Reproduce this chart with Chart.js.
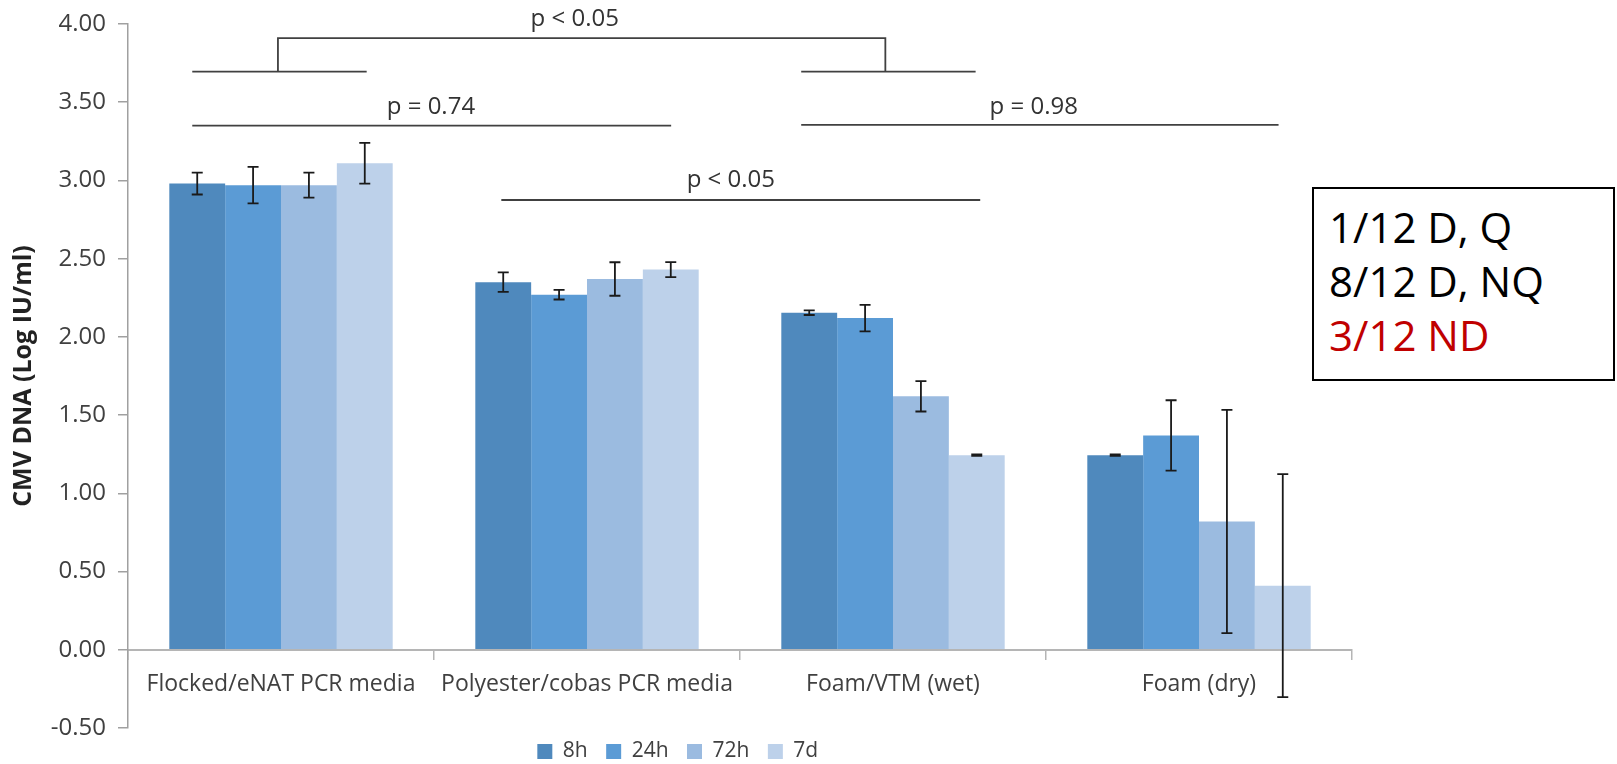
<!DOCTYPE html>
<html>
<head>
<meta charset="utf-8">
<script src="https://cdn.jsdelivr.net/npm/chart.js@4"></script>
<style>
  body { margin: 0; background: #fff; }
  #wrap { position: relative; width: 1617px; height: 764px; }
  #note {
    position: absolute; left: 1312px; top: 187px; width: 303px; height: 194px;
    box-sizing: border-box; border: 2px solid #000; background: #fff;
    font-family: 'Open Sans', sans-serif; font-size: 42px; line-height: 54px;
    padding: 11px 0 0 15px; color: #000;
  }
  #note .nd { color: #C00000; }
</style>
</head>
<body>
<div id="wrap">
  <canvas id="grafico"></canvas>
  <div id="note">1/12 D, Q<br>8/12 D, NQ<br><span class="nd">3/12 ND</span></div>
</div>
<script>
// datos
const categorias = ['Flocked/eNAT PCR media', 'Polyester/cobas PCR media', 'Foam/VTM (wet)', 'Foam (dry)'];
const series = ['8h', '24h', '72h', '7d'];
const media8h = [2.98, 2.35, 2.155, 1.244];
const media24h = [2.97, 2.27, 2.12, 1.37];
const media72h = [2.97, 2.37, 1.62, 0.82];
const media7d = [3.11, 2.43, 1.244, 0.41];
const error8h = [0.07, 0.062, 0.015, 0.005];
const error24h = [0.117, 0.031, 0.085, 0.225];
const error72h = [0.08, 0.107, 0.097, 0.713];
const error7d = [0.13, 0.048, 0.005, 0.713];
const yMin = -0.5, yMax = 4, yPaso = 0.5;
const pValores = ['p < 0.05', 'p = 0.74', 'p = 0.98', 'p < 0.05'];

const colores = ['#4F89BD', '#5B9BD5', '#9BBBE0', '#BDD1EA'];
const medias = [media8h, media24h, media72h, media7d];
const errores = [error8h, error24h, error72h, error7d];

// corchetes de significancia (x en indice de categoria, y en log IU/ml)
const corchetes = [
    { texto: pValores[0], pos: [0.96, 4.03], lineas: [
        [[-0.29, 3.695], [0.28, 3.695]],
        [[-0.01, 3.695], [-0.01, 3.91], [1.975, 3.91], [1.975, 3.695]],
        [[1.70, 3.695], [2.27, 3.695]]
    ] },
    { texto: pValores[1], pos: [0.49, 3.47], lineas: [[[-0.29, 3.35], [1.275, 3.35]]] },
    { texto: pValores[2], pos: [2.46, 3.47], lineas: [[[1.70, 3.355], [3.26, 3.355]]] },
    { texto: pValores[3], pos: [1.47, 3.0], lineas: [[[0.72, 2.875], [2.285, 2.875]]] }
];

const barrasError = {
    id: 'barrasError',
    afterDatasetsDraw(chart) {
        const c = chart.ctx;
        const y = chart.scales.y;
        c.save();
        c.strokeStyle = '#1a1a1a';
        c.lineWidth = 1.8;
        chart.data.datasets.forEach((ds, i) => {
            const meta = chart.getDatasetMeta(i);
            meta.data.forEach((bar, j) => {
                const v = ds.data[j], e = errores[i][j];
                const y1 = y.getPixelForValue(v + e);
                const y2 = y.getPixelForValue(v - e);
                c.beginPath();
                c.moveTo(bar.x, y1); c.lineTo(bar.x, y2);
                c.moveTo(bar.x - 5.5, y1); c.lineTo(bar.x + 5.5, y1);
                c.moveTo(bar.x - 5.5, y2); c.lineTo(bar.x + 5.5, y2);
                c.stroke();
            });
        });
        c.restore();
    }
};

const significancia = {
    id: 'significancia',
    afterDraw(chart) {
        const c = chart.ctx;
        const x = chart.scales.x, y = chart.scales.y;
        c.save();
        c.strokeStyle = '#404040';
        c.lineWidth = 1.8;
        c.fillStyle = '#333';
        c.font = "24px 'Open Sans', sans-serif";
        c.textAlign = 'center';
        c.textBaseline = 'middle';
        corchetes.forEach(b => {
            b.lineas.forEach(l => {
                c.beginPath();
                l.forEach((p, k) => {
                    const px = x.getPixelForValue(p[0]), py = y.getPixelForValue(p[1]);
                    if (k === 0) c.moveTo(px, py); else c.lineTo(px, py);
                });
                c.stroke();
            });
            c.fillText(b.texto, x.getPixelForValue(b.pos[0]), y.getPixelForValue(b.pos[1]));
        });
        c.restore();
    }
};

Chart.defaults.font.family = "'Open Sans', sans-serif";
Chart.defaults.color = '#404040';

new Chart(document.getElementById('grafico'), {
    type: 'bar',
    data: {
        labels: categorias,
        datasets: series.map((s, i) => ({
            label: s,
            data: medias[i],
            backgroundColor: colores[i],
            categoryPercentage: 0.73,
            barPercentage: 1.0
        }))
    },
    options: {
        responsive: true,
        maintainAspectRatio: false,
        animation: false,
        layout: { padding: { left: 9, right: 265, top: 18, bottom: 0 } },
        plugins: {
            tooltip: { enabled: false },
            legend: {
                position: 'bottom',
                maxHeight: 36,
                labels: {
                    boxWidth: 15,
                    boxHeight: 15,
                    padding: 13,
                    font: { size: 21 },
                    color: '#404040',
                    generateLabels(chart) {
                        const items = Chart.defaults.plugins.legend.labels.generateLabels(chart);
                        items.forEach(it => { it.text = it.text + ' '; it.lineWidth = 0; });
                        return items;
                    }
                }
            }
        },
        scales: {
            x: {
                position: { y: 0 },
                grid: { offset: true, drawOnChartArea: false, tickLength: 9, color: '#B5B5B5', lineWidth: 1.5 },
                border: { color: '#B5B5B5', width: 2 },
                ticks: { font: { size: 23 }, padding: 12, maxRotation: 0, autoSkip: false, color: '#404040' }
            },
            y: {
                min: yMin,
                max: yMax,
                afterFit(scale) { scale.width = 119; },
                ticks: {
                    stepSize: yPaso,
                    font: { size: 24, lineHeight: 1 },
                    padding: 12,
                    color: '#404040',
                    callback: v => v.toFixed(2)
                },
                grid: { drawOnChartArea: false, tickLength: 10, color: '#A0A0A0', lineWidth: 1.5 },
                border: { color: '#A0A0A0', width: 1.5 },
                title: {
                    display: true,
                    text: 'CMV DNA (Log IU/ml)',
                    font: { size: 25, weight: 'bold' },
                    color: '#222',
                    padding: { top: 0, bottom: 0 }
                }
            }
        }
    },
    plugins: [barrasError, significancia]
});
</script>
</body>
</html>
